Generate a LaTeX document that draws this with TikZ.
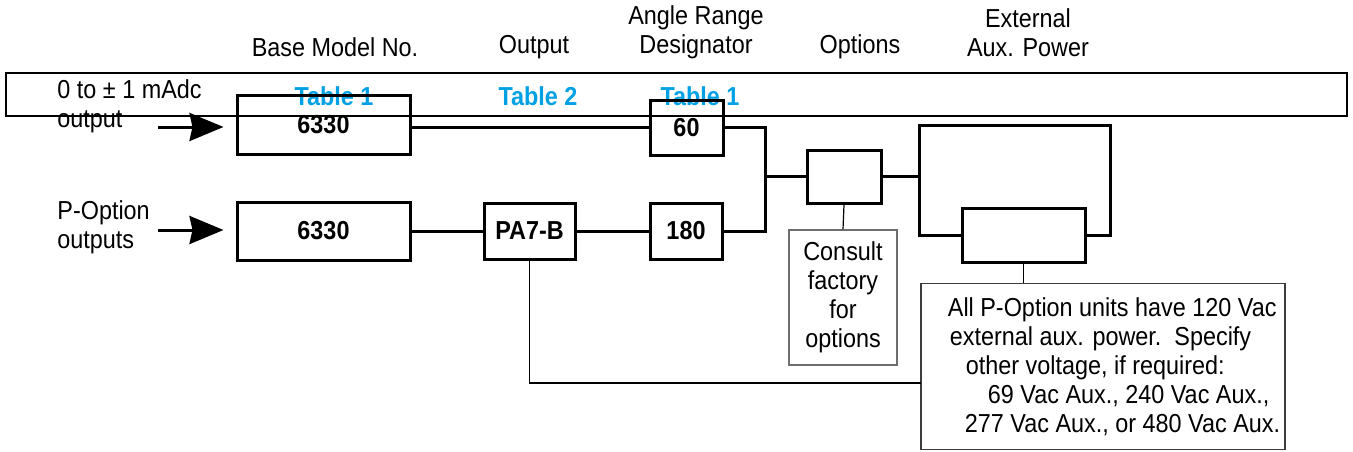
\documentclass[tikz,border=0pt]{standalone}
\usepackage{fontspec}
\setmainfont{Liberation Sans}[FakeStretch=0.9]
\usetikzlibrary{positioning, arrows.meta}

\begin{document}
\begin{tikzpicture}[
    x=0.5pt, y=-0.5pt,
    every node/.style = {font=\fontsize{13}{14.5}\selectfont},
    unit/.style = {rectangle, draw=black, line width=1.5pt, inner sep=0pt, font=\fontsize{13}{14.5}\selectfont\bfseries},
    head/.style = {align=center, inner sep=0pt},
    tbl/.style = {text=tblblue, inner sep=0pt, font=\fontsize{13}{14.5}\selectfont\bfseries},
    memo/.style = {rectangle, draw=memogray, line width=0.7pt, inner sep=0pt},
    wire/.style = {draw, line width=1.5pt},
    lead/.style = {draw, line width=0.6pt},
    feed/.style = {draw, line width=1.5pt, -{Stealth[length=17pt, width=14pt, inset=1.5pt]}, shorten >=6pt}
]
    % Colors definition
    \definecolor{tblblue}{RGB}{0, 161, 228}
    \definecolor{memogray}{RGB}{60, 60, 60}
    \definecolor{consgray}{RGB}{110, 110, 110}

    \useasboundingbox (0,0) rectangle (1353,451);

    % Header band
    \node (band) [draw, line width=1.3pt, minimum width=670.5pt, minimum height=21.5pt, inner sep=0pt] at (676.5,94.5) {};

    % Column headers
    \node (hbase) [head] at (335,47) {Base Model No.};
    \node (hout) [head] at (534,47) {Output};
    \node (hang) [head] at (696,32.5) {Angle Range\\Designator};
    \node (hopt) [head] at (860,47) {Options};
    \node (hpow) [head] at (1028,32.5) {External\\Aux. Power};

    % Table references
    \node (t1) [tbl] at (334,96) {Table 1};
    \node (t2) [tbl] at (538,96) {Table 2};
    \node (t3) [tbl] at (700,96) {Table 1};

    % Input labels
    \node (lbla) [head, align=left, anchor=west] at (57,106) {0 to ± 1 mAdc\\output};
    \node (lblb) [head, align=left, anchor=west] at (57,227) {P-Option\\outputs};

    % Units
    \node (m1) [unit, minimum width=86.5pt, minimum height=29.5pt] at (323.5,125) {6330};
    \node (r1) [unit, minimum width=36.5pt, minimum height=27.5pt] at (686.5,127.5) {60};
    \node (m2) [unit, minimum width=86.5pt, minimum height=29pt] at (323.5,231) {6330};
    \node (pa) [unit, minimum width=45.5pt, minimum height=28pt] at (529.5,231) {PA7-B};
    \node (r2) [unit, minimum width=36pt, minimum height=28pt] at (686,231) {180};
    \node (opt) [unit, minimum width=37pt, minimum height=26.5pt] at (844,176.5) {};
    \node (pw) [unit, minimum width=61.5pt, minimum height=27pt] at (1023.5,235) {};

    % Notes
    \node (cons) [memo, draw=consgray, minimum width=54pt, minimum height=67.5pt, align=center] at (843,297.5) {Consult\\factory\\for\\options};
    \node (note) [memo, minimum width=182pt, minimum height=83pt, align=left] at (1103,366.5) {%
        \hspace*{11pt}All P-Option units have 120 Vac\\
        \hspace*{12pt}external aux. power.\ \ Specify\\
        \hspace*{20pt}other voltage, if required:\\
        \hspace*{31pt}69 Vac Aux., 240 Vac Aux.,\\
        \hspace*{19.5pt}277 Vac Aux., or 480 Vac Aux.};

    % Free ends
    \coordinate (ina) at (158,127);
    \coordinate (inb) at (158,230);
    \coordinate (jn) at (765,176.5);
    \coordinate (pl) at (919,235);
    \coordinate (ptl) at (919,125);
    \coordinate (ptr) at (1110,125);
    \coordinate (pr) at (1110,235);
    \coordinate (tap) at (921,383);

    % Connections
    \draw [feed] (ina) -- (ina -| m1.west);
    \draw [feed] (inb) -- (inb -| m2.west);
    \draw [wire] (r1.west -| m1.east) -- (r1.west);
    \draw [wire] (m2) -- (pa);
    \draw [wire] (pa) -- (r2);
    \draw [wire] (r1.east) -| (jn) |- (r2.east);
    \draw [wire] (jn) -- (opt);
    \draw [wire] (opt.east) -- (opt.east -| pl);
    \draw [wire] (pw.west) -- (pl) -- (ptl) -- (ptr) -- (pr) -- (pw.east);

    \draw [lead] (opt.south) -- (cons.north);
    \draw [lead] (pw.south) -- (pw.south |- note.north);
    \draw [lead] (pa.south) |- (tap);

\end{tikzpicture}
\end{document}
